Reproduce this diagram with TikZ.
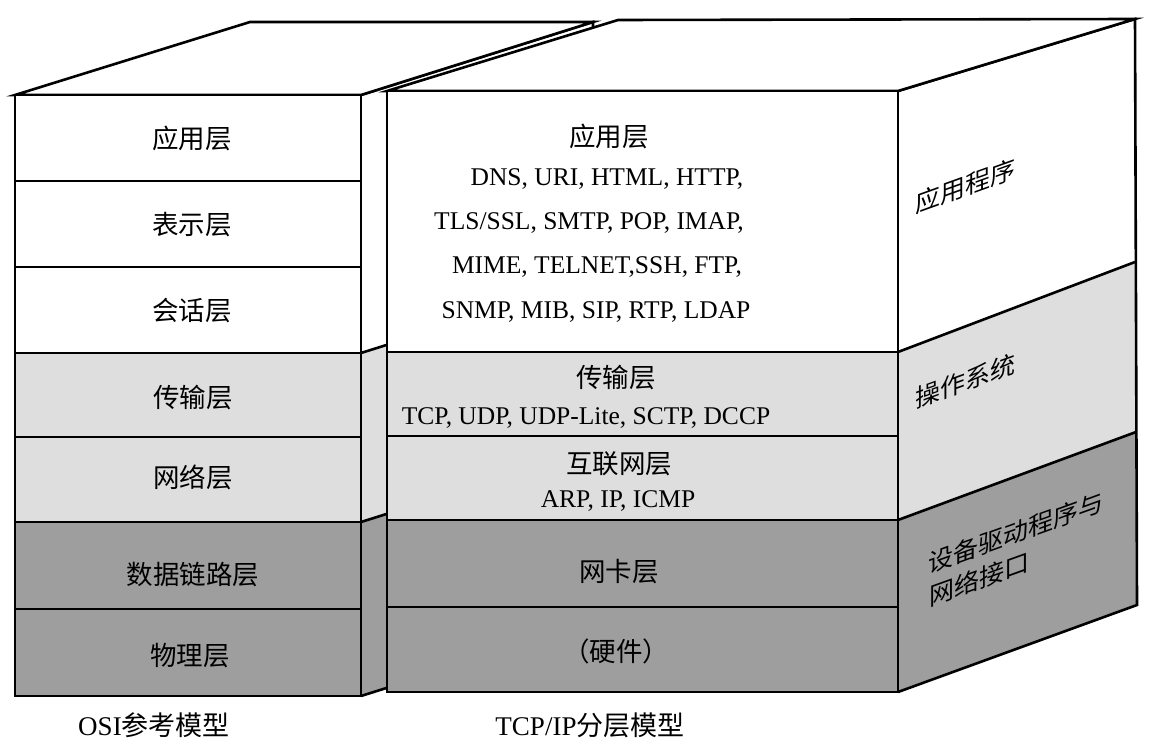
\documentclass[tikz,border=0pt]{standalone}
\usepackage{fontspec}
\setmainfont{Liberation Serif}
\newfontfamily\cjk{Noto Sans CJK SC}
\definecolor{lightg}{gray}{0.87}
\definecolor{darkg}{gray}{0.62}
\begin{document}
\begin{tikzpicture}[x=1pt,y=-1pt,
  edge/.style={line width=2.6pt, line join=miter},
  cn/.style={font=\fontsize{26.5}{30}\selectfont\cjk, inner sep=0pt},
  en/.style={font=\fontsize{25.5}{29}\selectfont, inner sep=0pt},
  captext/.style={font=\fontsize{27}{31}\selectfont, inner sep=0pt},
  side/.style={font=\fontsize{25}{33}\selectfont\cjk, inner sep=0pt, align=left, transform shape, anchor=base west},
]
\useasboundingbox (0,0) rectangle (1156,749);

% ---------- OSI box: side face ----------
\fill[white] (361,95) -- (593,22) -- (593,280) -- (361,353) -- cycle;
\fill[lightg] (361,353) -- (593,280) -- (593,449) -- (361,522) -- cycle;
\fill[darkg] (361,522) -- (593,449) -- (593,623) -- (361,696) -- cycle;
\draw[edge] (361,353) -- (593,280);
\draw[edge] (361,522) -- (593,449);
\draw[edge] (361,95) -- (593,22) -- (593,623) -- (361,696);
% top face
\draw[edge, fill=white] (15,95) -- (250,22) -- (593,22) -- (361,95) -- cycle;
% front layers
\draw[edge, fill=white]  (15,95)  rectangle (361,181);
\draw[edge, fill=white]  (15,181) rectangle (361,267);
\draw[edge, fill=white]  (15,267) rectangle (361,353);
\draw[edge, fill=lightg] (15,353) rectangle (361,437);
\draw[edge, fill=lightg] (15,437) rectangle (361,522);
\draw[edge, fill=darkg]  (15,522) rectangle (361,609);
\draw[edge, fill=darkg]  (15,609) rectangle (361,696);

\node[cn] (o7) at (192,138) {应用层};
\node[cn] (o6) at (192,225) {表示层};
\node[cn] (o5) at (192,311) {会话层};
\node[cn] (o4) at (193,398) {传输层};
\node[cn] (o3) at (193,477) {网络层};
\node[cn] (o2) at (193,575) {数据链路层};
\node[cn] (o1) at (190,656) {物理层};

% ---------- TCP/IP box: side face ----------
\fill[white] (898,91) -- (1135,19) -- (1135,262) -- (898,352) -- cycle;
\fill[lightg] (898,352) -- (1135,262) -- (1136,432) -- (898,520) -- cycle;
\fill[darkg] (898,520) -- (1136,432) -- (1137,605) -- (898,692) -- cycle;
\draw[edge] (898,352) -- (1135,262);
\draw[edge] (898,520) -- (1136,432);
\draw[edge] (898,91) -- (1135,19) -- (1137,605) -- (898,692);
% top face
\draw[edge, fill=white] (387,91) -- (618,20) -- (1135,19) -- (898,91) -- cycle;
% front layers
\draw[edge, fill=white]  (387,91)  rectangle (898,352);
\draw[edge, fill=lightg] (387,352) rectangle (898,436);
\draw[edge, fill=lightg] (387,436) rectangle (898,520);
\draw[edge, fill=darkg]  (387,520) rectangle (898,607);
\draw[edge, fill=darkg]  (387,607) rectangle (898,692);

\node[cn] (t4) at (609,136) {应用层};
\node[en] (t4a) at (607,179) {DNS, URI, HTML, HTTP,};
\node[en] (t4b) at (589,223) {TLS/SSL, SMTP, POP, IMAP,};
\node[en] (t4c) at (597,267) {MIME, TELNET,SSH, FTP,};
\node[en] (t4d) at (596,312) {SNMP, MIB, SIP, RTP, LDAP};
\node[cn] (t3) at (616,378) {传输层};
\node[en] (t3a) at (586,418) {TCP, UDP, UDP-Lite, SCTP, DCCP};
\node[cn] (t2) at (619,464) {互联网层};
\node[en] (t2a) at (618,501) {ARP, IP, ICMP};
\node[cn] (t1) at (619,572) {网卡层};
\node[cn] (t0) at (616,651) {（硬件）};

\begin{scope}[shift={(915,214)}, yslant=0.36]
  \node[side] (s3) at (0,0) {应用程序};
\end{scope}
\begin{scope}[shift={(915,409)}, yslant=0.36]
  \node[side] (s2) at (0,0) {操作系统};
\end{scope}
\begin{scope}[shift={(928,574)}, yslant=0.36]
  \node[side] (s1) at (0,0) {设备驱动程序与};
\end{scope}
\begin{scope}[shift={(929,607)}, yslant=0.36]
  \node[side] (s0) at (0,0) {网络接口};
\end{scope}

% captions
\node[captext] (capL) at (154,725) {OSI{\cjk 参考模型}};
\node[captext] (capR) at (590,725) {TCP/IP{\cjk 分层模型}};
\end{tikzpicture}
\end{document}
